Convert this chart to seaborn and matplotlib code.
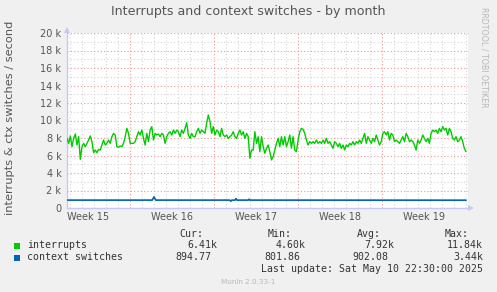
import numpy as np
import pandas as pd
import matplotlib
matplotlib.use("Agg")
import matplotlib.pyplot as plt
from matplotlib.patches import Rectangle, Polygon
import seaborn as sns

# ---------------- data (values in thousands per second) ----------------
interrupts_k = [
    7.96, 7.39, 8.23, 7.01, 7.96, 8.46, 7.20, 8.15, 5.56, 7.01,
    7.39, 7.01, 7.39, 7.77, 8.23, 7.58, 6.32, 6.63, 6.32, 6.70,
    6.63, 7.20, 7.77, 7.20, 7.39, 7.77, 7.39, 8.15, 8.53, 8.34,
    7.01, 6.93, 7.09, 7.01, 7.39, 8.15, 9.10, 8.53, 7.39, 7.39,
    7.39, 7.58, 8.15, 8.72, 8.34, 8.91, 7.96, 7.20, 8.53, 7.58,
    8.91, 9.30, 7.77, 8.53, 8.34, 8.46, 8.15, 8.53, 8.34, 7.39,
    8.15, 8.53, 8.72, 8.34, 8.91, 8.53, 8.91, 8.72, 8.15, 8.91,
    8.53, 9.10, 9.75, 8.34, 7.96, 8.53, 8.15, 8.15, 8.72, 9.10,
    8.53, 8.91, 8.72, 8.53, 9.68, 10.63, 9.87, 8.53, 9.30, 8.34,
    8.91, 8.72, 8.15, 9.10, 8.34, 8.15, 8.34, 7.96, 8.15, 8.34,
    8.72, 8.15, 7.96, 8.53, 8.91, 8.34, 8.72, 7.96, 8.53, 8.15,
    5.68, 6.63, 6.63, 8.72, 7.39, 8.15, 6.44, 8.15, 7.01, 6.25,
    6.82, 7.20, 6.44, 5.49, 5.87, 6.63, 7.39, 7.96, 7.01, 8.15,
    7.20, 8.15, 7.01, 7.58, 8.34, 6.82, 8.15, 6.63, 6.44, 7.77,
    8.72, 9.10, 8.99, 8.53, 7.77, 7.20, 7.58, 7.39, 7.58, 7.39,
    7.77, 7.39, 7.58, 7.39, 7.77, 7.39, 7.96, 7.39, 7.58, 7.20,
    6.82, 7.58, 7.39, 7.01, 7.39, 6.82, 7.20, 6.63, 7.20, 7.01,
    7.39, 7.20, 7.58, 7.20, 7.58, 7.39, 7.77, 7.39, 7.96, 8.53,
    7.39, 8.15, 7.77, 7.39, 7.96, 7.58, 8.34, 7.77, 7.20, 7.58,
    8.53, 8.72, 8.34, 8.72, 7.77, 8.53, 8.34, 7.58, 7.77, 7.58,
    7.39, 7.77, 8.15, 7.58, 8.53, 8.15, 7.58, 7.77, 7.58, 7.20,
    6.63, 7.77, 7.39, 7.77, 8.34, 7.96, 7.58, 7.96, 7.39, 8.53,
    8.91, 8.72, 8.91, 8.53, 9.10, 8.72, 9.30, 8.91, 9.10, 8.34,
    9.10, 8.72, 7.96, 7.77, 8.15, 7.58, 7.77, 8.15, 7.58, 6.82,
    6.44,
]
span_days = (0.0, 33.25)          # time covered by the samples (days from left edge)

cs_days = [0.0, 7.10, 7.25, 7.40, 13.55, 13.65, 13.75, 14.00, 14.08, 14.16,
           15.10, 15.17, 15.24, 33.25]
cs_k = [0.90, 0.90, 1.27, 0.90, 0.90, 0.78, 0.90, 0.90, 1.08, 0.90,
        0.90, 1.00, 0.90, 0.89]

week_labels = ["Week 15", "Week 16", "Week 17", "Week 18", "Week 19"]
week_label_days = [1.75, 8.75, 15.75, 22.75, 29.75]
week_start_days = [5.25, 12.25, 19.25, 26.25]
day_grid = [0.25 + d for d in range(34)]
y_major = [0, 2, 4, 6, 8, 10, 12, 14, 16, 18, 20]
y_labels = ["0", "2 k", "4 k", "6 k", "8 k", "10 k", "12 k", "14 k", "16 k", "18 k", "20 k"]
y_minor = list(range(0, 21))

series_names = ["interrupts", "context switches"]
series_colors = ["#00CC00", "#0066B3"]
cur_vals = ["6.41k", "894.77"]
min_vals = ["4.60k", "801.86"]
avg_vals = ["7.92k", "902.08"]
max_vals = ["11.84k", "3.44k"]

title = "Interrupts and context switches - by month"
ylabel = "interrupts & ctx switches / second"
last_update = "Last update: Sat May 10 22:30:00 2025"

# ---------------- figure ----------------
W, H = 497, 292
sns.set_theme(style="white")
plt.rcParams["font.family"] = ["DejaVu Sans"]

fig = plt.figure(figsize=(W / 100, H / 100), dpi=100, facecolor="#F0F0F0")


def fx(x):
    return x / W


def fy(y):
    return 1 - y / H


L, R, T, B = 67, 468, 33, 208
ax = fig.add_axes([fx(L), fy(B), (R - L) / W, (B - T) / H])
ax.set_facecolor("white")

n = len(interrupts_k)
t = np.linspace(span_days[0], span_days[1], n)
df_int = pd.DataFrame({"day": t, "value": interrupts_k})
df_cs = pd.DataFrame({"day": cs_days, "value": cs_k})

# grid
minor_col = "#D4D4D4"
major_col = "#F09898"
for d in day_grid:
    if d not in week_start_days:
        ax.axvline(d, color=minor_col, lw=0.8, ls=(0, (1, 2)), zorder=1)
for v in y_minor:
    if v not in y_major:
        ax.axhline(v, color=minor_col, lw=0.8, ls=(0, (1, 2)), zorder=1)
for d in week_start_days:
    ax.axvline(d, color=major_col, lw=0.8, ls=(0, (1, 2)), zorder=1.5)
for v in y_major[1:]:
    ax.axhline(v, color=major_col, lw=0.8, ls=(0, (1, 2)), zorder=1.5)

sns.lineplot(data=df_int, x="day", y="value", ax=ax, color=series_colors[0],
             lw=1.0, estimator=None, zorder=3)
sns.lineplot(data=df_cs, x="day", y="value", ax=ax, color=series_colors[1],
             lw=1.2, estimator=None, zorder=3)

ax.set_xlim(0, (R - L) / 12)
ax.set_ylim(0, 20)
ax.set_xlabel("")
ax.set_ylabel("")

ax.set_yticks(y_major)
ax.set_yticklabels(y_labels)
ax.set_xticks(week_start_days)
ax.set_xticklabels([""] * len(week_start_days))
ax.tick_params(axis="y", length=2, width=0.8, color=major_col, pad=2,
               labelsize=7, labelcolor="#555555")
ax.tick_params(axis="x", length=3, width=0.8, color=major_col, pad=1)

sec = ax.secondary_xaxis("bottom")
sec.set_xticks(week_label_days)
sec.set_xticklabels(week_labels)
sec.tick_params(length=0, pad=3, labelsize=7, labelcolor="#555555")
sec.spines["bottom"].set_visible(False)

for s in ["top", "right"]:
    ax.spines[s].set_visible(False)
for s in ["left", "bottom"]:
    ax.spines[s].set_color("#C8C8F4")
    ax.spines[s].set_linewidth(1.0)

# axis arrows
fig.add_artist(Polygon([(fx(64), fy(33)), (fx(70), fy(33)), (fx(67), fy(27))],
                       closed=True, transform=fig.transFigure,
                       facecolor="#C8C8F4", edgecolor="none"))
fig.add_artist(Polygon([(fx(468), fy(205)), (fx(468), fy(211)), (fx(474), fy(208))],
                       closed=True, transform=fig.transFigure,
                       facecolor="#C8C8F4", edgecolor="none"))

# texts
fig.text(fx(248), fy(12), title, ha="center", va="center",
         fontsize=9.1, color="#555555")
fig.text(fx(10), fy(118), ylabel, ha="center", va="center", rotation=90,
         fontsize=8.2, color="#555555")
fig.text(fx(484), fy(57), "RRDTOOL / TOBI OETIKER", ha="center", va="center",
         rotation=270, fontsize=5.7, color="#B8B8B8")

mono = "DejaVu Sans Mono"
fs = 7.1
tc = "#333333"
for label, xr in zip(["Cur:", "Min:", "Avg:", "Max:"], [203, 292, 381, 469]):
    fig.text(fx(xr), fy(234), label, ha="right", va="center",
             family=mono, fontsize=fs, color=tc)

rows_y = [245.5, 257.5]
for i in range(2):
    y = rows_y[i]
    fig.add_artist(Rectangle((fx(14), fy(y + 3)), 6 / W, 6 / H,
                             transform=fig.transFigure,
                             facecolor=series_colors[i], edgecolor="none"))
    fig.text(fx(27), fy(y), series_names[i], ha="left", va="center",
             family=mono, fontsize=fs, color=tc)
    for vals, xe_k, xe_n in zip([cur_vals, min_vals, avg_vals, max_vals],
                                [217, 306, 394, 483], [211, 300, 388, 477]):
        v = vals[i]
        xe = xe_k if v.endswith("k") else xe_n
        fig.text(fx(xe), fy(y), v, ha="right", va="center",
                 family=mono, fontsize=fs, color=tc)

fig.text(fx(483), fy(269.5), last_update, ha="right", va="center",
         family=mono, fontsize=fs, color=tc)
fig.text(fx(248), fy(281.5), "Munin 2.0.33-1", ha="center", va="center",
         fontsize=5.2, color="#B8B8B8")

fig.savefig("out.png", dpi=100, facecolor=fig.get_facecolor())
